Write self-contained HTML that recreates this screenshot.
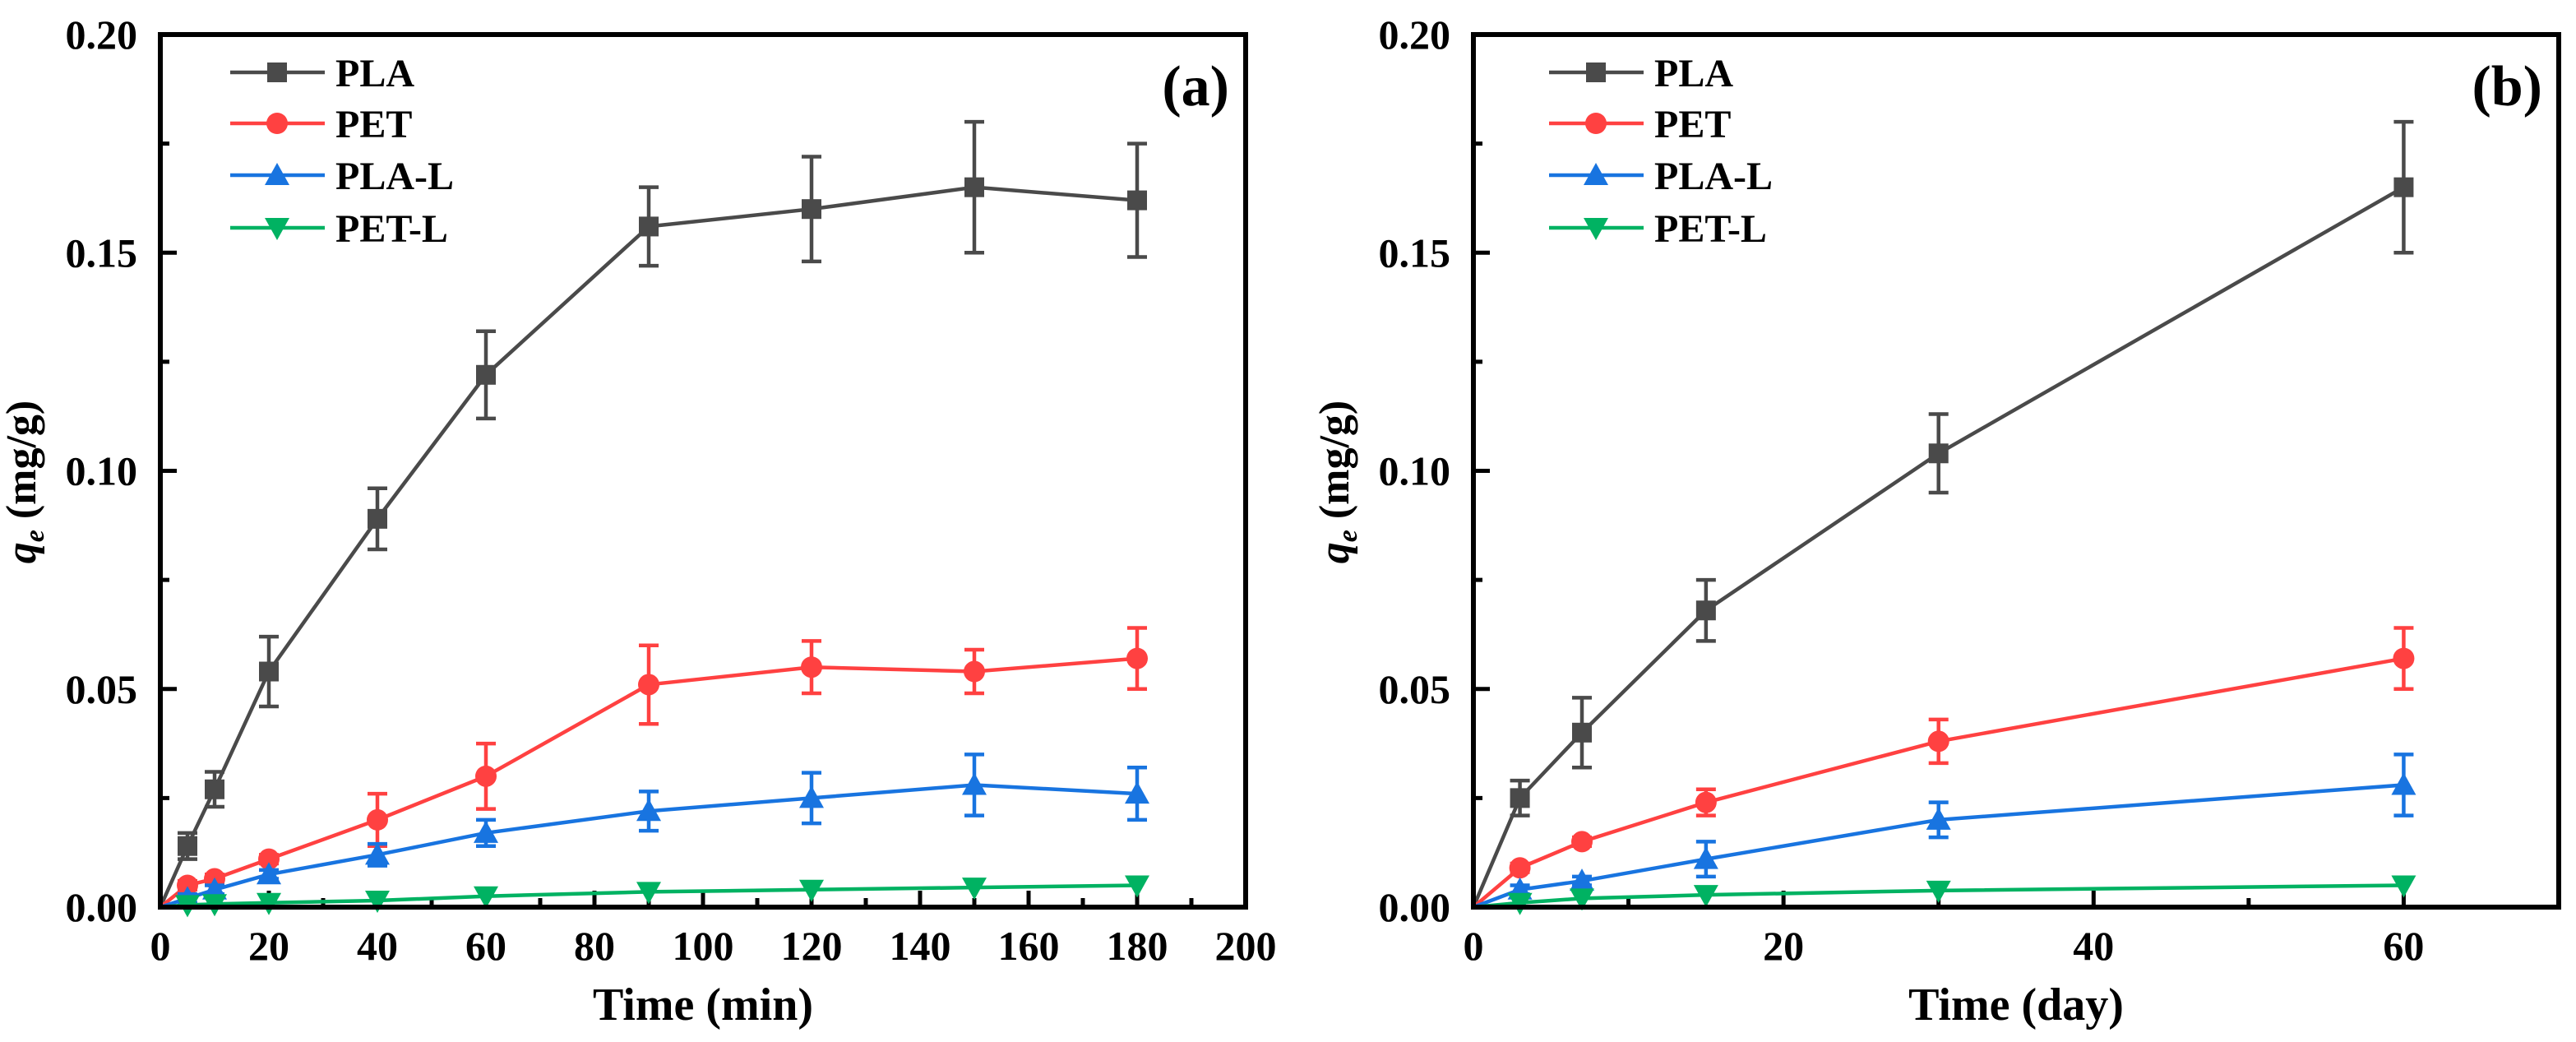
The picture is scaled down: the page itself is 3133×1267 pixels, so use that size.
<!DOCTYPE html>
<html><head><meta charset="utf-8"><style>
html,body{margin:0;padding:0;background:#fff}
svg{display:block}
text{font-family:"Liberation Serif",serif;font-weight:bold;fill:#000}
</style></head><body>
<svg id="fig" width="3133" height="1267" viewBox="0 0 3133 1267" xmlns="http://www.w3.org/2000/svg"></svg>
<script>
// Panel (a) data
const xA = [0,5,10,20,40,60,90,120,150,180];
const plaA = [0,0.014,0.027,0.054,0.089,0.122,0.156,0.160,0.165,0.162];
const plaAErr = [0,0.003,0.004,0.008,0.007,0.010,0.009,0.012,0.015,0.013];
const petA = [0,0.005,0.0065,0.011,0.020,0.030,0.051,0.055,0.054,0.057];
const petAErr = [0,0.001,0.001,0.001,0.006,0.0075,0.009,0.006,0.005,0.007];
const plalA = [0,0.002,0.004,0.0075,0.012,0.017,0.022,0.025,0.028,0.026];
const plalAErr = [0,0.001,0.001,0.001,0.0025,0.003,0.0045,0.0058,0.007,0.006];
const petlA = [0,0.0005,0.0007,0.001,0.0015,0.0025,0.0035,0.004,0.0045,0.005];
const petlAErr = [0,0.0004,0.0004,0.0004,0.0005,0.0005,0.0006,0.0006,0.0006,0.0006];
// Panel (b) data
const xB = [0,3,7,15,30,60];
const plaB = [0,0.025,0.040,0.068,0.104,0.165];
const plaBErr = [0,0.004,0.008,0.007,0.009,0.015];
const petB = [0,0.009,0.015,0.024,0.038,0.057];
const petBErr = [0,0.001,0.001,0.003,0.005,0.007];
const plalB = [0,0.004,0.006,0.011,0.020,0.028];
const plalBErr = [0,0.001,0.001,0.004,0.004,0.007];
const petlB = [0,0.001,0.002,0.0028,0.0038,0.005];
const petlBErr = [0,0.0004,0.0004,0.0005,0.0006,0.0006];
// Ticks
const yTicks = [0,0.05,0.10,0.15,0.20];
const yTickLabels = ["0.00","0.05","0.10","0.15","0.20"];
const xTicksA = [0,20,40,60,80,100,120,140,160,180,200];
const xTicksB = [0,20,40,60];
const seriesNames = ["PLA","PET","PLA-L","PET-L"];
const colors = ["#4a4a4a","#ff4141","#1874e0","#00b262"];
const markers = ["square","circle","up","down"];

const NS="http://www.w3.org/2000/svg";
const svg=document.getElementById('fig');
function el(tag,attrs,parent){const e=document.createElementNS(NS,tag);for(const k in attrs)e.setAttribute(k,attrs[k]);(parent||svg).appendChild(e);return e;}

function marker(g,type,cx,cy,color){
  let m;
  if(type==="square") m=el('rect',{x:cx-12,y:cy-12,width:24,height:24,fill:color},g);
  else if(type==="circle") m=el('circle',{cx:cx,cy:cy,r:13,fill:color},g);
  else if(type==="up") m=el('polygon',{points:`${cx},${cy-15} ${cx+15},${cy+12} ${cx-15},${cy+12}`,fill:color},g);
  else m=el('polygon',{points:`${cx},${cy+15} ${cx+15},${cy-12} ${cx-15},${cy-12}`,fill:color},g);
  return m;
}

function panel(opt){
  const L=opt.left,R=opt.right,T=42,B=1103;
  const xs=v=>L+(v-opt.xmin)/(opt.xmax-opt.xmin)*(R-L);
  const ys=v=>B-(v/0.2)*(B-T);
  const g=el('g',{});
  
  
  for(let v=0;v<=opt.xmax+1e-9;v+=opt.minorX){
    const major=Math.abs(v/opt.majorX-Math.round(v/opt.majorX))<1e-6;
    const t=el('line',{x1:xs(v),x2:xs(v),y1:B,y2:B-(major?20:11),stroke:'#000','stroke-width':5},g);
    
    
  }
  for(let i=0;i<=8;i++){
    const v=i*0.025;const major=i%2===0;
    const t=el('line',{x1:L,x2:L+(major?20:11),y1:ys(v),y2:ys(v),stroke:'#000','stroke-width':5},g);
    
    
  }
  yTicks.forEach((v,i)=>{
    const t=el('text',{x:L-28,y:ys(v)+17,'font-size':50,'text-anchor':'end'},g);
    t.textContent=yTickLabels[i];
    
    
  });
  opt.xTicks.forEach(v=>{
    const t=el('text',{x:xs(v),y:1167,'font-size':50,'text-anchor':'middle'},g);
    t.textContent=String(v);
    
    
  });
  opt.series.forEach((s,si)=>{
    const sg=el('g',{},g);
    
    
    const pts=opt.x.map((xv,i)=>xs(xv)+','+ys(s.y[i])).join(' ');
    const ln=el('polyline',{points:pts,fill:'none',stroke:colors[si],'stroke-width':4.5,'stroke-linejoin':'round'},sg);
    
    
    opt.x.forEach((xv,i)=>{
      if(i===0)return;
      const cx=xs(xv),e=s.e[i];
      if(e>0.0008){
        const eb=el('path',{d:`M${cx},${ys(s.y[i]-e)}V${ys(s.y[i]+e)}M${cx-12},${ys(s.y[i]-e)}h24M${cx-12},${ys(s.y[i]+e)}h24`,stroke:colors[si],'stroke-width':4.5,fill:'none'},sg);
        
        
      }
      const m=marker(sg,markers[si],cx,ys(s.y[i]),colors[si]);
      
      
    });
  });
  const fr=el('rect',{x:L,y:T,width:R-L,height:B-T,fill:'none',stroke:'#000','stroke-width':6},g);
  
  
  const lg=el('g',{},g);
  
  
  const rows=[88,150,213,277];
  seriesNames.forEach((n,i)=>{
    const eg=el('g',{},lg);
    
    
    el('line',{x1:L+opt.legX,x2:L+opt.legX+115,y1:rows[i],y2:rows[i],stroke:colors[i],'stroke-width':4.5},eg);
    marker(eg,markers[i],L+opt.legX+57,rows[i],colors[i]);
    const t=el('text',{x:L+opt.legX+128,y:rows[i]+17,'font-size':48},eg);
    t.textContent=n;
  });
  const pl=el('text',{x:R-20,y:128,'font-size':70,'text-anchor':'end'},g);
  pl.textContent=opt.label;
  
  
  const xt=el('text',{x:(L+R)/2,y:1240,'font-size':56,'text-anchor':'middle'},g);
  xt.textContent=opt.xtitle;
  
  
  const yx=L-152, yy=586;
  const yt=el('text',{x:yx,y:yy,'font-size':52,'text-anchor':'middle',transform:`rotate(-90 ${yx} ${yy})`},g);
  const q=el('tspan',{'font-style':'italic'},yt);q.textContent='q';
  const sub=el('tspan',{'font-style':'italic','font-size':34,dy:10},yt);sub.textContent='e';
  const rest=el('tspan',{dy:-10},yt);rest.textContent=' (mg/g)';
  
  
}

panel({name:'panel-a',left:195,right:1515,xmin:0,xmax:200,majorX:20,minorX:10,xTicks:xTicksA,x:xA,
  series:[{y:plaA,e:plaAErr},{y:petA,e:petAErr},{y:plalA,e:plalAErr},{y:petlA,e:petlAErr}],
  legX:85,label:'(a)',xtitle:'Time (min)'});
panel({name:'panel-b',left:1792,right:3112,xmin:0,xmax:70,majorX:20,minorX:10,xTicks:xTicksB,x:xB,
  series:[{y:plaB,e:plaBErr},{y:petB,e:petBErr},{y:plalB,e:plalBErr},{y:petlB,e:petlBErr}],
  legX:92,label:'(b)',xtitle:'Time (day)'});
</script>
</body></html>
